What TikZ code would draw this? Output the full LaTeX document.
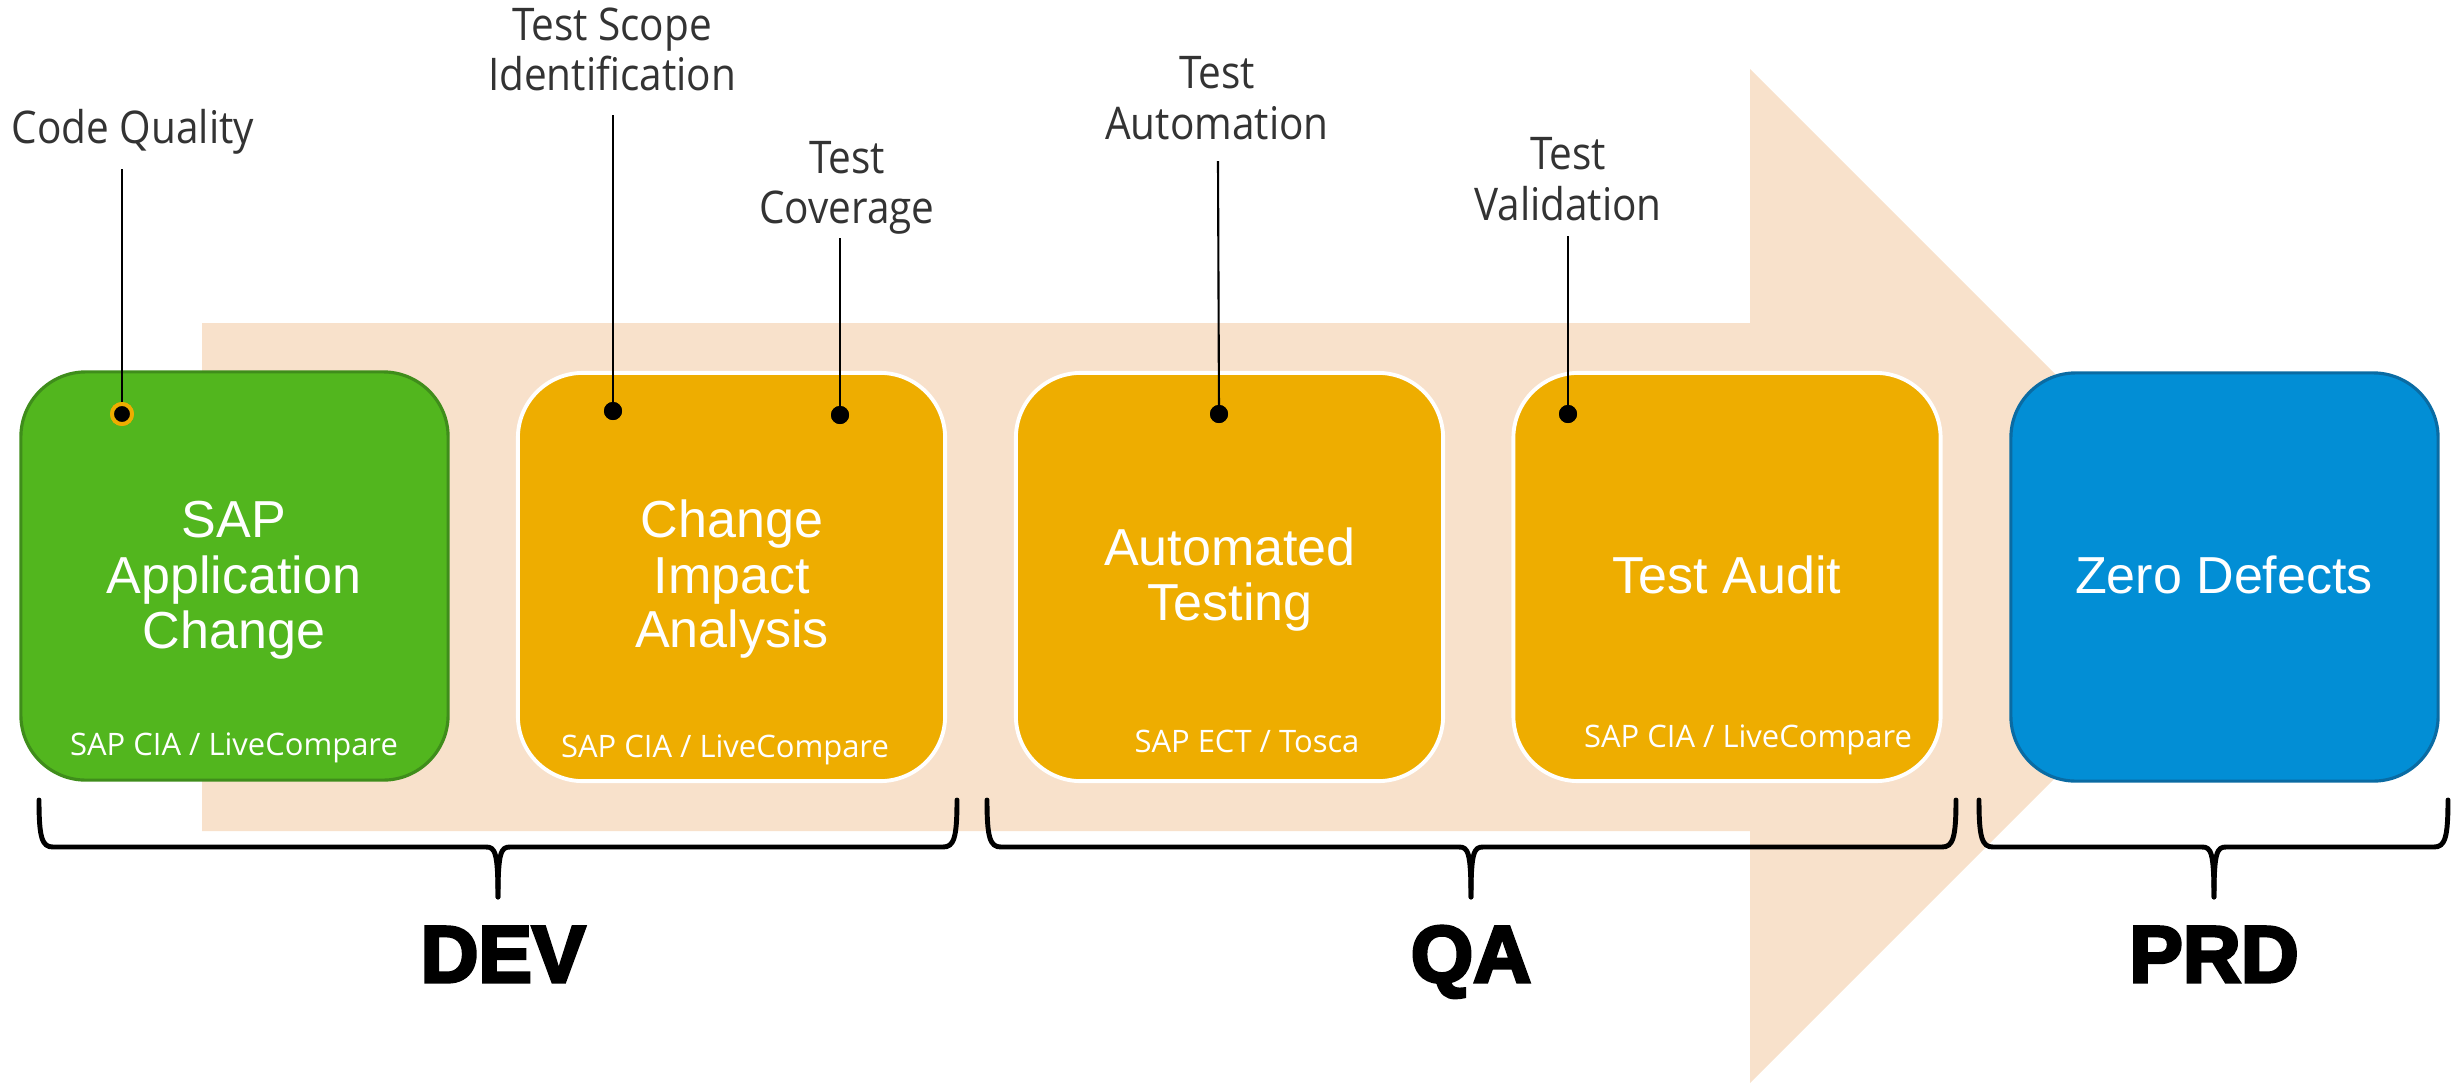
\documentclass[tikz,border=0pt]{standalone}
\usepackage{fontspec}
\setmainfont{Liberation Sans}
\newfontfamily\calloutfont[FakeStretch=0.9]{Open Sans}
\newfontfamily\subfont{Open Sans}
\newfontfamily\blackfont[FakeBold=4]{Liberation Sans Bold}
\definecolor{peach}{HTML}{F8E1CB}
\definecolor{sapgreen}{HTML}{52B61E}
\definecolor{sapgreenborder}{HTML}{3F8D1B}
\definecolor{sapyellow}{HTML}{EEAD00}
\definecolor{sapblue}{HTML}{028ED5}
\definecolor{sapblueborder}{HTML}{0A6BA3}
\definecolor{calloutgray}{HTML}{333333}
\tikzset{
  stagebox/.style={rectangle, rounded corners=0.65cm, minimum width=4.27cm, minimum height=4.08cm, inner sep=0pt},
  greenbox/.style={stagebox, fill=sapgreen, draw=sapgreenborder, line width=0.9pt},
  yellowbox/.style={stagebox, fill=sapyellow, draw=white, line width=1.1pt},
  bluebox/.style={stagebox, fill=sapblue, draw=sapblueborder, line width=0.9pt},
  titletext/.style={anchor=base, inner sep=0pt, text=white, font=\fontsize{14.8pt}{15.8pt}\selectfont},
  subtext/.style={anchor=base, inner sep=0pt, text=white, font=\subfont\fontsize{8.8pt}{10pt}\selectfont},
  callouttext/.style={anchor=base, inner sep=0pt, text=calloutgray, font=\calloutfont\fontsize{12.8pt}{14.5pt}\selectfont},
  phasetext/.style={anchor=base, inner sep=0pt, text=black, font=\blackfont\fontsize{22.8pt}{24pt}\selectfont},
  blackdot/.style={circle, fill=black, minimum size=0.18cm, inner sep=0pt},
  ringdot/.style={circle, fill=black, draw=sapyellow, line width=1.1pt, minimum size=0.2cm, inner sep=0pt},
  leader/.style={draw=black, line width=0.6pt},
  bracestyle/.style={draw=black, line width=1.4pt, line cap=round, line join=round}
}
\begin{document}
\begin{tikzpicture}[x=0.01cm,y=-0.01cm]
\useasboundingbox (0,0) rectangle (2453,1084);

% big background arrow
\fill[peach] (202,323) -- (1750,323) -- (1750,69) -- (2257,576) -- (1750,1083) -- (1750,831) -- (202,831) -- cycle;

% stage boxes
\node[greenbox]  (app)   at (234.5,576) {};
\node[yellowbox] (cia)   at (731.5,577) {};
\node[yellowbox] (auto)  at (1229.5,577) {};
\node[yellowbox] (audit) at (1727,577) {};
\node[bluebox]   (zero)  at (2224.5,577) {};

% titles
\node[titletext] (appA) at (234,537) {SAP};
\node[titletext] (appB) at (234,593) {Application};
\node[titletext] (appC) at (234,648) {Change};
\node[titletext] (ciaA) at (732,537) {Change};
\node[titletext] (ciaB) at (732,593) {Impact};
\node[titletext] (ciaC) at (732,647) {Analysis};
\node[titletext] (autoA) at (1230,565) {Automated};
\node[titletext] (autoB) at (1230,620) {Testing};
\node[titletext] (auditA) at (1727,593) {Test Audit};
\node[titletext] (zeroA) at (2224,593) {Zero Defects};

% tool subtitles
\node[subtext] (appS)   at (234,755)  {SAP CIA / LiveCompare};
\node[subtext] (ciaS)   at (725,757)  {SAP CIA / LiveCompare};
\node[subtext] (autoS)  at (1247,752) {SAP ECT / Tosca};
\node[subtext] (auditS) at (1748,747) {SAP CIA / LiveCompare};

% callout labels
\node[callouttext] (cq)   at (133,143)  {Code Quality};
\node[callouttext] (tsA)  at (612,40)   {Test Scope};
\node[callouttext] (tsB)  at (612,90)   {Identification};
\node[callouttext] (tcA)  at (847,173)  {Test};
\node[callouttext] (tcB)  at (847,223)  {Coverage};
\node[callouttext] (taA)  at (1217,88)  {Test};
\node[callouttext] (taB)  at (1217,139) {Automation};
\node[callouttext] (tvA)  at (1568,169) {Test};
\node[callouttext] (tvB)  at (1568,220) {Validation};

% leader start points
\coordinate (cqTop) at (122,169);
\coordinate (tsTop) at (613,115);
\coordinate (tcTop) at (840,238);
\coordinate (taTop) at (1218,161);
\coordinate (tvTop) at (1568,236);

% dots
\node[ringdot]  (cqDot) at (122,414) {};
\node[blackdot] (tsDot) at (613,411) {};
\node[blackdot] (tcDot) at (840,415) {};
\node[blackdot] (taDot) at (1219,414) {};
\node[blackdot] (tvDot) at (1568,414) {};

% leaders
\draw[leader] (cqTop) -- (cqDot.center);
\draw[leader] (tsTop) -- (tsDot.center);
\draw[leader] (tcTop) -- (tcDot.center);
\draw[leader] (taTop) -- (taDot.center);
\draw[leader] (tvTop) -- (tvDot.center);
\node[ringdot]  at (cqDot) {};
\node[blackdot] at (tsDot) {};
\node[blackdot] at (tcDot) {};
\node[blackdot] at (taDot) {};
\node[blackdot] at (tvDot) {};

% braces
\draw[bracestyle] (39,800) .. controls (39,838) and (42,847) .. (53,847) -- (486,847) .. controls (495,847) and (498,852) .. (498,897);
\draw[bracestyle] (957,800) .. controls (957,838) and (954,847) .. (943,847) -- (510,847) .. controls (501,847) and (498,852) .. (498,897);
\draw[bracestyle] (987,800) .. controls (987,838) and (990,847) .. (1001,847) -- (1459,847) .. controls (1468,847) and (1471,852) .. (1471,897);
\draw[bracestyle] (1956,800) .. controls (1956,838) and (1953,847) .. (1942,847) -- (1483,847) .. controls (1474,847) and (1471,852) .. (1471,897);
\draw[bracestyle] (1979,800) .. controls (1979,838) and (1982,847) .. (1993,847) -- (2202,847) .. controls (2211,847) and (2214,852) .. (2214,897);
\draw[bracestyle] (2448,800) .. controls (2448,838) and (2445,847) .. (2434,847) -- (2226,847) .. controls (2217,847) and (2214,852) .. (2214,897);

% phase labels
\node[phasetext] (dev) at (503,982)  {DEV};
\node[phasetext] (qa)  at (1471,982) {QA};
\node[phasetext] (prd) at (2214,982) {PRD};
\end{tikzpicture}
\end{document}
